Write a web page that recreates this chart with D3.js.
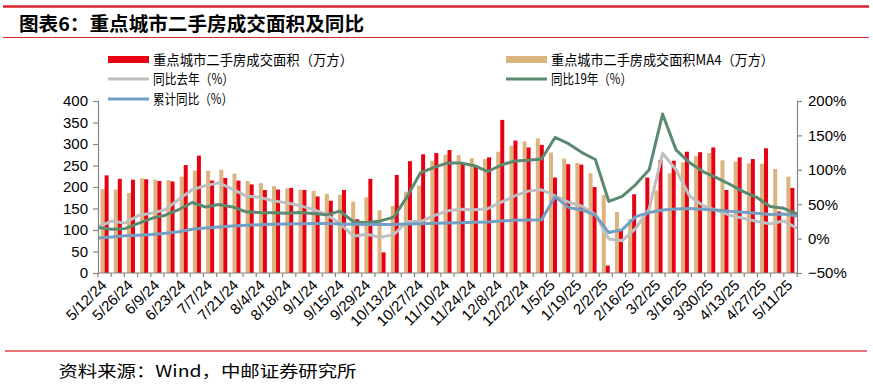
<!DOCTYPE html>
<html>
<head>
<meta charset="utf-8">
<script src="https://cdn.jsdelivr.net/npm/d3@7/dist/d3.min.js"></script>
<style>
  body { margin: 0; background: #fff; }
  svg { display: block; }
</style>
</head>
<body>
<div id="chart"></div>
<script>
// weekly dates (x categories)
const weeks = ["5/12/24","5/19/24","5/26/24","6/2/24","6/9/24","6/16/24","6/23/24","6/30/24",
  "7/7/24","7/14/24","7/21/24","7/28/24","8/4/24","8/11/24","8/18/24","8/25/24",
  "9/1/24","9/8/24","9/15/24","9/22/24","9/29/24","10/6/24","10/13/24","10/20/24","10/27/24",
  "11/3/24","11/10/24","11/17/24","11/24/24","12/1/24","12/8/24","12/15/24","12/22/24","12/29/24",
  "1/5/25","1/12/25","1/19/25","1/26/25","2/2/25","2/9/25","2/16/25","2/23/25",
  "3/2/25","3/9/25","3/16/25","3/23/25","3/30/25","4/6/25","4/13/25","4/20/25","4/27/25","5/4/25","5/11/25"];

// 重点城市二手房成交面积（万方）
const area = [227,219,217,218,214,213,251,273,215,221,215,206,193,194,198,193,178,168,193,125,
  219,48,228,260,276,279,286,255,250,269,356,308,292,298,222,253,252,200,17,98,
  183,222,263,261,282,281,292,193,269,265,290,143,198];

// 重点城市二手房成交面积MA4（万方）
const areaMA4 = [195,194,186,220,217,216,224,238,238,240,231,214,209,202,197,194,191,184,182,166,
  176,146,156,189,203,261,275,274,267,265,282,296,306,313,280,266,256,232,181,142,
  125,130,192,232,257,272,279,262,259,255,254,242,224];

// 同比去年（%）
const yoyLast = [17,25.5,22.5,33.5,37,42,57,71,77,81,72,62,60,55,52,48,42.5,35,22,3.5,
  6.3,1.8,5.8,24.7,24.7,33.5,40.5,42.5,42,43.5,53,62,69,71,62,53,47,35,-0.5,-3,
  15,43,124,100,62,48,41,34,29.5,25,21.5,25.7,15];

// 同比19年（%）
const yoy19 = [16,13.5,14.5,22,29.5,34,42,52.5,46,49.5,46,39,38,37.5,37,38,36.5,34.5,40,24.5,
  23,25.7,31,61,96,103.5,110,110,106,97.5,107,112.8,113.8,115.7,147,138,125,115,54,61.5,
  78.5,100,181,129,110.5,97.4,88.7,79,68.3,60,46.5,44,36];

// 累计同比（%）
const yoyCum = [1,2.4,4,5,6,7.7,10,13.5,15.5,17,18.4,19.4,20.3,21,21.3,21.7,22,21.8,21.3,20.8,
  20.5,20.5,20.6,21.2,21.7,22.2,22.7,23.2,23.7,24.2,25.5,26.5,27,27.5,61,45.3,41.7,34.2,8.8,13,
  32,37.8,41.7,43,43.6,42.6,41.7,39.7,38.3,36.8,35,35.8,33];

const leftTicks = [0,50,100,150,200,250,300,350,400];
const rightTicks = [-50,0,50,100,150,200];

const W = 873, H = 385;
const plot = { left: 98, right: 797, top: 101, bottom: 273 };

const svg = d3.select('#chart').append('svg')
  .attr('width', W).attr('height', H);

const cjk = '"Noto Sans CJK SC", "Noto Sans", sans-serif';
const num = '"Liberation Sans", Arial, sans-serif';

// header / footer rules
svg.append('line').attr('x1', 3).attr('x2', 869).attr('y1', 6.5).attr('y2', 6.5)
  .attr('stroke', '#d7262e').attr('stroke-width', 2.6);
svg.append('line').attr('x1', 3).attr('x2', 869).attr('y1', 37.5).attr('y2', 37.5)
  .attr('stroke', '#d7262e').attr('stroke-width', 1);
svg.append('line').attr('x1', 5).attr('x2', 867).attr('y1', 351).attr('y2', 351)
  .attr('stroke', '#e0454a').attr('stroke-width', 1.3);

svg.append('text')
  .attr('x', 19).attr('y', 30.5)
  .attr('font-family', cjk).attr('font-weight', 700).attr('font-size', 19)
  .attr('textLength', 345).attr('lengthAdjust', 'spacingAndGlyphs')
  .text('图表6：重点城市二手房成交面积及同比');

svg.append('text')
  .attr('x', 58.5).attr('y', 377)
  .attr('font-family', cjk).attr('font-size', 16)
  .attr('textLength', 298).attr('lengthAdjust', 'spacingAndGlyphs')
  .text('资料来源：Wind，中邮证券研究所');

// scales
const x = d3.scaleBand().domain(weeks).range([plot.left, plot.right]).padding(0);
const xs = d3.scaleBand().domain(['ma4', 'area']).range([0, 8]);
const xLine = d3.scalePoint().domain(weeks).range([plot.left, plot.right]);
const yL = d3.scaleLinear().domain([0, 400]).range([plot.bottom, plot.top]);
const yR = d3.scaleLinear().domain([-50, 200]).range([plot.bottom, plot.top]);

const g = svg.append('g');
const off = (x.bandwidth() - 8) / 2;

// bars
g.selectAll('.ma4').data(areaMA4).enter().append('rect')
  .attr('class', 'ma4')
  .attr('x', (d, i) => x(weeks[i]) + off + xs('ma4'))
  .attr('width', xs.bandwidth())
  .attr('y', d => yL(d))
  .attr('height', d => yL(0) - yL(d))
  .attr('fill', '#dcb47f');

g.selectAll('.area').data(area).enter().append('rect')
  .attr('class', 'area')
  .attr('x', (d, i) => x(weeks[i]) + off + xs('area'))
  .attr('width', xs.bandwidth())
  .attr('y', d => yL(d))
  .attr('height', d => yL(0) - yL(d))
  .attr('fill', '#e60012');

// lines
const line = d3.line()
  .x((d, i) => xLine(weeks[i]))
  .y(d => yR(d));

const series = [
  { data: yoyLast, color: '#bfbfbf' },
  { data: yoy19, color: '#5b8a70' },
  { data: yoyCum, color: '#739fc4' }
];
g.selectAll('.ln').data(series).enter().append('path')
  .attr('class', 'ln')
  .attr('fill', 'none')
  .attr('stroke', d => d.color)
  .attr('stroke-width', 3)
  .attr('stroke-linejoin', 'round')
  .attr('d', d => line(d.data));

// axes
const axisColor = '#868686';
const yAxisL = svg.append('g')
  .attr('transform', 'translate(' + plot.left + ',0)')
  .call(d3.axisLeft(yL).tickValues(leftTicks).tickSize(5).tickPadding(5));
const yAxisR = svg.append('g')
  .attr('transform', 'translate(' + plot.right + ',0)')
  .call(d3.axisRight(yR).tickValues(rightTicks).tickSize(5).tickPadding(6)
    .tickFormat(d => (d < 0 ? '\u2212' + Math.abs(d) : d) + '%'));

[yAxisL, yAxisR].forEach(a => {
  a.select('.domain').attr('stroke', axisColor).attr('stroke-width', 1.2);
  a.selectAll('.tick line').attr('stroke', axisColor).attr('stroke-width', 1.2);
  a.selectAll('.tick text').attr('font-family', num).attr('font-size', 15).attr('fill', '#000');
});

// x axis: ticks on category boundaries, labels every 2 weeks
const xa = svg.append('g');
xa.append('line')
  .attr('x1', plot.left).attr('x2', plot.right)
  .attr('y1', plot.bottom).attr('y2', plot.bottom)
  .attr('stroke', axisColor).attr('stroke-width', 1.2);
xa.selectAll('.xt').data(weeks.concat(['end'])).enter().append('line')
  .attr('x1', d => d === 'end' ? plot.right : x(d))
  .attr('x2', d => d === 'end' ? plot.right : x(d))
  .attr('y1', plot.bottom).attr('y2', plot.bottom + 4)
  .attr('stroke', axisColor).attr('stroke-width', 1.2);
xa.selectAll('.xl').data(weeks.filter((d, i) => i % 2 === 0)).enter().append('text')
  .attr('transform', d => 'translate(' + (x(d) + x.bandwidth() / 2 + 3) + ',' + 286 + ') rotate(-45)')
  .attr('text-anchor', 'end')
  .attr('font-family', num).attr('font-size', 15)
  .text(d => d);

// legend
const leg = svg.append('g').attr('font-family', cjk).attr('font-size', 14);
const legItems = [
  { label: '重点城市二手房成交面积（万方）', x: 108, y: 59.5, type: 'rect', color: '#e60012', w: 200 },
  { label: '重点城市二手房成交面积MA4（万方）', x: 506, y: 59.5, type: 'rect', color: '#dcb47f', w: 223 },
  { label: '同比去年（%）', x: 108, y: 79, type: 'line', color: '#bfbfbf', w: 81 },
  { label: '同比19年（%）', x: 506, y: 79, type: 'line', color: '#5b8a70', w: 81 },
  { label: '累计同比（%）', x: 108, y: 99, type: 'line', color: '#739fc4', w: 80 }
];
legItems.forEach(it => {
  if (it.type === 'rect') {
    leg.append('rect').attr('x', it.x).attr('y', it.y - 3.5).attr('width', 41).attr('height', 7)
      .attr('fill', it.color);
  } else {
    leg.append('line').attr('x1', it.x).attr('x2', it.x + 41).attr('y1', it.y).attr('y2', it.y)
      .attr('stroke', it.color).attr('stroke-width', 3);
  }
  leg.append('text')
    .attr('x', it.x + 45).attr('y', it.y + 5)
    .attr('textLength', it.w).attr('lengthAdjust', 'spacingAndGlyphs')
    .text(it.label);
});
</script>
</body>
</html>
